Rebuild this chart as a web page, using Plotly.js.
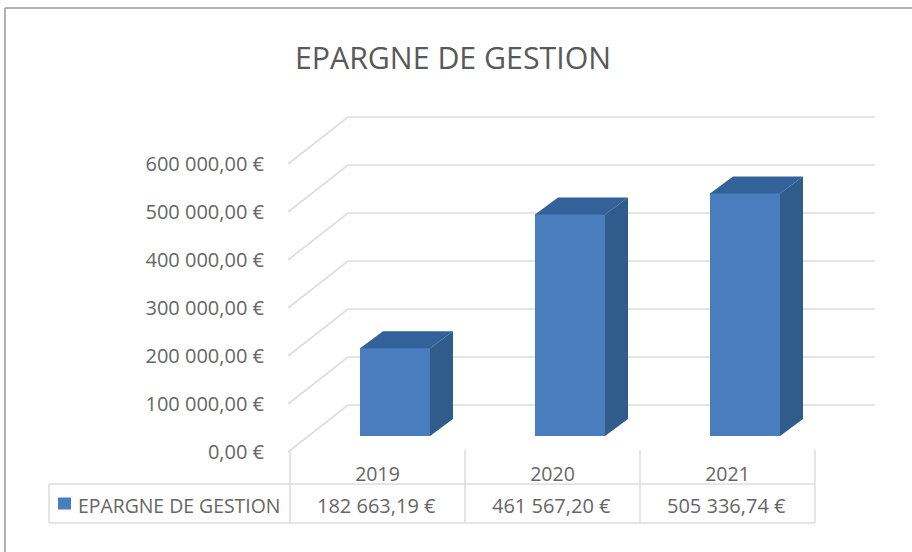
<!DOCTYPE html>
<html><head><meta charset="utf-8">
<script src="https://cdn.plot.ly/plotly-3.0.1.min.js"></script>
<style>html,body{margin:0;padding:0;background:#fff}</style>
</head><body><div id="chart" style="width:912px;height:552px"></div>
<script>
const chartTitle = 'EPARGNE DE GESTION';
const seriesName = 'EPARGNE DE GESTION';
const categories = ['2019', '2020', '2021'];
const values = [182663.19, 461567.20, 505336.74];
const valueLabels = ['182 663,19 €', '461 567,20 €', '505 336,74 €'];
const tickValues = [0, 100000, 200000, 300000, 400000, 500000, 600000];
const tickLabels = ['0,00 €', '100 000,00 €', '200 000,00 €', '300 000,00 €', '400 000,00 €', '500 000,00 €', '600 000,00 €'];

// frame of the plot area in pixels
const W = 912, H = 552, L = 288, R = 875, T = 100, B = 460;
const pxPerUnitX = 175, pxPerValue = 48 / 100000, col0 = 377.5, zeroY = 452;
const xr = [(L - col0) / pxPerUnitX, (R - col0) / pxPerUnitX];
const yr = [(zeroY - B) / pxPerValue, (zeroY - T) / pxPerValue];
// oblique projection: wall and bars in px, converted to axis units
const wallDx = 60 / pxPerUnitX, wallDy = 47 / pxPerValue;
const barLift = 16 / pxPerValue, barDx = 23 / pxPerUnitX, barDy = 17 / pxPerValue;
const barShift = 0.1, barW = 0.4;
const textCol = '#666666', gridCol = '#dcdcdc', frontCol = '#4a7dbd', sideCol = '#305c8c', topCol = '#33629a';
const font = 'Open Sans, sans-serif';
const px = x => (x - L) / (R - L), py = y => (B - y) / (B - T);

const gridShapes = tickValues.map(v => ({
  type: 'path', layer: 'below', xref: 'x', yref: 'y',
  path: `M ${xr[0]} ${v} L ${xr[0] + wallDx} ${v + wallDy} L ${xr[1]} ${v + wallDy}`,
  line: {color: gridCol, width: 1.6}
}));
const line = (x0, y0, x1, y1, color, width) => ({type: 'line', layer: 'below', xref: 'paper', yref: 'paper',
  x0: px(x0), y0: py(y0), x1: px(x1), y1: py(y1), line: {color, width}});
const tableShapes = [
  line(49, 484, 815, 484, gridCol, 1.5), line(49, 523, 815, 523, gridCol, 1.5), line(49, 484, 49, 523, gridCol, 1.5),
  line(290, 450, 290, 523, gridCol, 1.5), line(465, 450, 465, 523, gridCol, 1.5),
  line(640, 450, 640, 523, gridCol, 1.5), line(815, 450, 815, 523, gridCol, 1.5),
  line(5, 552, 5, 8, '#999999', 1.5), line(5, 8, 912, 8, '#999999', 1.5),
  {type: 'rect', xref: 'paper', yref: 'paper', x0: px(58), x1: px(71), y0: py(509.5), y1: py(497.5), fillcolor: frontCol, line: {width: 0}}
];

const left = i => i + barShift - barW / 2, right = i => i + barShift + barW / 2;
const lift = v => v + barLift;
const sideX = [], sideY = [], topX = [], topY = [];
values.forEach((v, i) => {
  sideX.push(right(i), right(i) + barDx, right(i) + barDx, right(i), right(i), null);
  sideY.push(barLift, barLift + barDy, lift(v) + barDy, lift(v), barLift, null);
  topX.push(left(i), left(i) + barDx, right(i) + barDx, right(i), left(i), null);
  topY.push(lift(v), lift(v) + barDy, lift(v) + barDy, lift(v), lift(v), null);
});

const traces = [
  {type: 'bar', name: seriesName, x: categories.map((c, i) => i), y: values, base: barLift,
   width: barW, offset: barShift - barW / 2, marker: {color: frontCol, line: {width: 0}}, showlegend: false},
  {type: 'scatter', mode: 'lines', x: sideX, y: sideY, fill: 'toself', fillcolor: sideCol, line: {width: 0, color: sideCol}, hoverinfo: 'skip', showlegend: false},
  {type: 'scatter', mode: 'lines', x: topX, y: topY, fill: 'toself', fillcolor: topCol, line: {width: 0, color: topCol}, hoverinfo: 'skip', showlegend: false}
];

const cellNote = (text, x, y, size) => ({xref: 'paper', yref: 'paper', x: px(x), y: py(y), text, showarrow: false,
  xanchor: 'center', yanchor: 'middle', font: {family: font, size, color: textCol}});
const annotations = valueLabels.map((t, i) => cellNote(t, col0 + i * pxPerUnitX - 1, 505, 20));
annotations.push(cellNote(seriesName, 178.5, 505, 19.4));

const layout = {
  width: W, height: H, paper_bgcolor: '#ffffff', plot_bgcolor: 'rgba(0,0,0,0)',
  margin: {l: L, r: W - R, t: T, b: H - B, pad: 0},
  title: {text: chartTitle, x: 453 / W, xanchor: 'center', y: 1 - 58 / H, yanchor: 'middle', font: {family: font, size: 30.3, color: '#595959'}},
  showlegend: false, bargap: 0,
  xaxis: {type: 'linear', range: xr, showgrid: false, zeroline: false, showline: false,
    tickmode: 'array', tickvals: categories.map((c, i) => i), ticktext: categories,
    ticks: '', ticklen: 0, tickfont: {family: font, size: 19.5, color: textCol}},
  yaxis: {type: 'linear', range: yr, showgrid: false, zeroline: false, showline: false,
    tickmode: 'array', tickvals: tickValues, ticktext: tickLabels,
    ticks: 'outside', ticklen: 19, tickcolor: 'rgba(0,0,0,0)', tickfont: {family: font, size: 20, color: textCol}},
  shapes: gridShapes.concat(tableShapes),
  annotations
};
Plotly.newPlot('chart', traces, layout, {displayModeBar: false, staticPlot: true});
</script></body></html>
